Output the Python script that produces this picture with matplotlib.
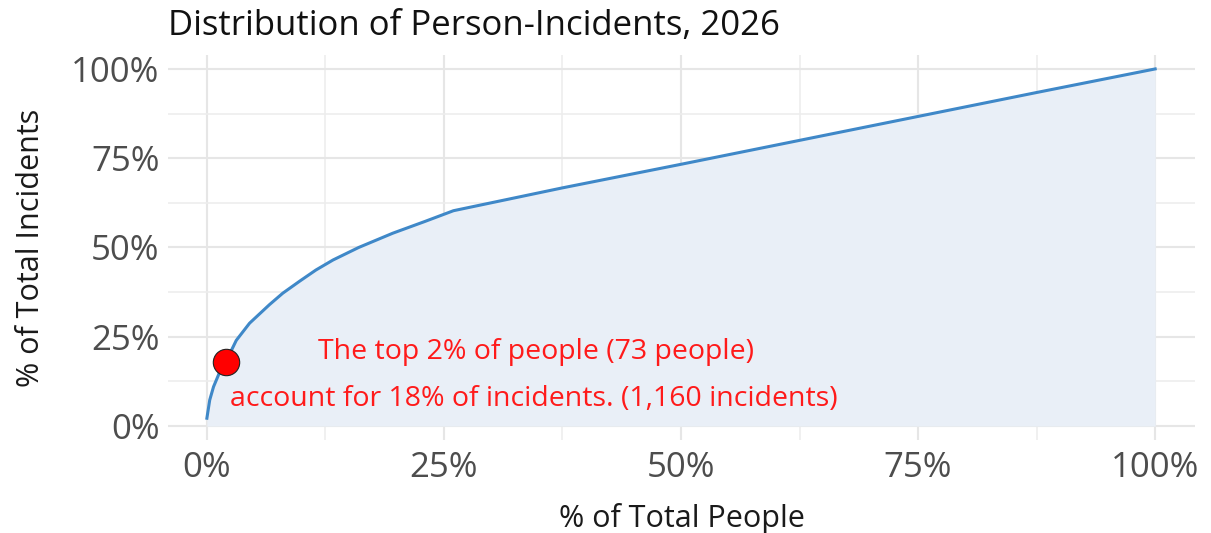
import numpy as np
import matplotlib
matplotlib.use('Agg')
import matplotlib.pyplot as plt
from matplotlib.ticker import MultipleLocator, FuncFormatter

plt.rcParams['font.family'] = ['Open Sans', 'DejaVu Sans']

# cumulative share of people vs share of incidents
pct_people = [0, 0.3, 0.7, 1.3, 2.0, 3.1, 4.5, 6.6, 8.0, 9.8, 11.5, 13.3, 16.0, 19.6, 23.0, 26.0,
              37.5, 50.0, 62.5, 75.0, 87.5, 100.0]
pct_incidents = [2.2, 7.3, 11.0, 14.8, 18.0, 24.0, 28.8, 34.0, 37.2, 40.6, 43.7, 46.5, 50.0, 54.0, 57.3, 60.3,
                 66.7, 73.3, 80.0, 86.7, 93.4, 100.0]

dot_x, dot_y = 2, 18
note_1 = "The top 2% of people (73 people)"
note_2 = "account for 18% of incidents. (1,160 incidents)"

line_col = '#3F88C8'
fill_col = '#E9EFF7'

fig = plt.figure(figsize=(12.11, 5.33), dpi=100)
ax = fig.add_axes([168/1211, 1 - 440/533, (1195-168)/1211, (440-55)/533])

ax.fill_between(pct_people, 0, pct_incidents, color=fill_col, lw=0, zorder=1)
ax.plot(pct_people, pct_incidents, color=line_col, lw=2.2, zorder=3)
ax.plot([dot_x], [dot_y], 'o', ms=19, mfc='#FF0000', mec='#222222', mew=0.8, zorder=4)

ax.text(34.7, 20.7, note_1, color='#FF1A1A', fontsize=20.5, ha='center', va='center', zorder=5)
ax.text(2.4, 7.6, note_2, color='#FF1A1A', fontsize=20.5, ha='left', va='center', zorder=5)

ax.set_xlim(-4.1, 104.2)
ax.set_ylim(-3.9, 103.9)
ax.xaxis.set_major_locator(MultipleLocator(25))
ax.yaxis.set_major_locator(MultipleLocator(25))
ax.xaxis.set_minor_locator(MultipleLocator(12.5))
ax.yaxis.set_minor_locator(MultipleLocator(12.5))
fmt = FuncFormatter(lambda v, p: f"{int(v)}%")
ax.xaxis.set_major_formatter(fmt)
ax.yaxis.set_major_formatter(fmt)

ax.grid(which='major', color='#E6E6E6', lw=1.5, zorder=0)
ax.grid(which='minor', color='#EDEDED', lw=1.2, zorder=0)
ax.set_axisbelow(True)
for s in ax.spines.values():
    s.set_visible(False)
ax.tick_params(which='both', length=0)
ax.tick_params(axis='both', labelsize=25, labelcolor='#4D4D4D')
ax.tick_params(axis='y', pad=6)
ax.tick_params(axis='x', pad=8)

ax.set_xlabel('% of Total People', fontsize=22, color='#1A1A1A', labelpad=13)
ax.set_ylabel('% of Total Incidents', fontsize=22, color='#1A1A1A', labelpad=18)

fig.text(168/1211, 1 - 26/533, 'Distribution of Person-Incidents, 2026', fontsize=25,
         color='#111111', ha='left', va='center')

fig.savefig('out.png', dpi=100, facecolor='white')
